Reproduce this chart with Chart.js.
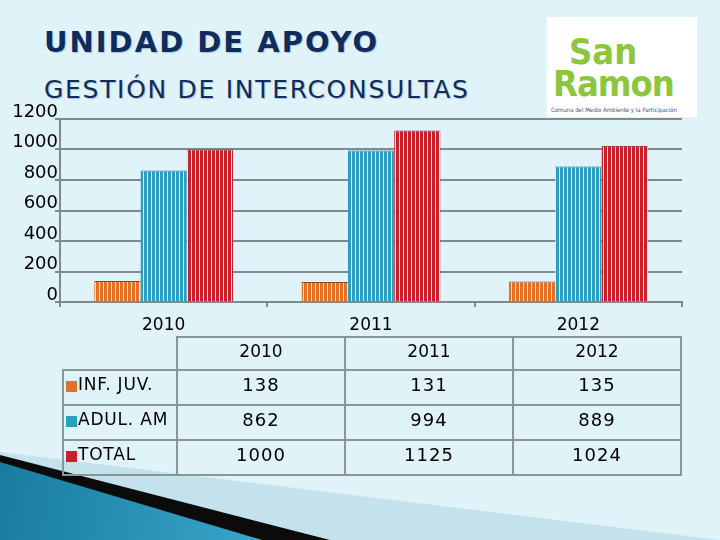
<!DOCTYPE html>
<html>
<head>
<meta charset="utf-8">
<script src="https://cdn.jsdelivr.net/npm/chart.js@4.4.1/dist/chart.umd.min.js"></script>
<style>
  html, body { margin:0; padding:0; }
  body { width:720px; height:540px; background:#dff3f9; position:relative; overflow:hidden; font-family:"DejaVu Sans", sans-serif; }
  #title { position:absolute; left:44px; top:25px; font-family:"DejaVu Sans", sans-serif; font-weight:bold; font-size:29px; letter-spacing:2px; color:#0e2c5e; text-shadow:1px 1px 1px #a9c3d2; }
  #subtitle { position:absolute; left:44px; top:75px; font-family:"DejaVu Sans", sans-serif; font-size:25px; letter-spacing:1.7px; color:#0e2c5e; text-shadow:1px 1px 1px #a9c3d2; }
  #logo { position:absolute; left:547px; top:17px; width:150px; height:100px; background:#fff; }
  #logo .san { position:absolute; left:22px; top:14px; font:bold 36px "DejaVu Sans Condensed", sans-serif; color:#8cc63f; }
  #logo .ram { position:absolute; left:6px; top:46px; font:bold 36px "DejaVu Sans Condensed", sans-serif; color:#8cc63f; letter-spacing:-1px; }
  #logo .cap { position:absolute; left:4px; top:89px; font:6px "DejaVu Sans Condensed", sans-serif; color:#3a4f7a; white-space:nowrap; }
  #wrap { position:absolute; left:0; top:100px; width:700px; height:240px; }
  table { position:absolute; left:62px; top:336px; border-collapse:collapse; font-family:"DejaVu Sans", sans-serif; font-size:17px; }
  td { border:2px solid #8c9598; height:30px; text-align:center; vertical-align:top; padding:3px 0 0 0; }
  tr.head td { height:28px; }
  td.num { font-size:18px; letter-spacing:1px; }
  td.lab { width:112px; text-align:left; font-size:17px; letter-spacing:0.8px; }
  td.yr { width:166px; }
  td.blank { border:none; border-right:2px solid #8c9598; border-bottom:2px solid #8c9598; }
  .sq { display:inline-block; width:11px; height:11px; margin:0 1px 0 2px; vertical-align:-2px; }
  #deco1 { position:absolute; left:0; top:0; width:720px; height:540px; background:#c4e2ec; clip-path:polygon(0 452px, 720px 540px, 0 540px); }
  #deco2 { position:absolute; left:0; top:0; width:720px; height:540px; background:#0b0b0b; clip-path:polygon(0 455px, 330px 540px, 0 540px); }
  #deco3 { position:absolute; left:0; top:0; width:720px; height:540px; background:linear-gradient(100deg,#0e6f92 0%,#3aa7cc 45%,#1f7fa3 100%); clip-path:polygon(0 462px, 262px 540px, 0 540px); }
</style>
</head>
<body>
<div id="deco1"></div><div id="deco2"></div><div id="deco3"></div>
<div id="title">UNIDAD DE APOYO</div>
<div id="subtitle">GESTIÓN DE INTERCONSULTAS</div>
<div id="logo"><span class="san">San</span><span class="ram">Ramon</span><span class="cap">Comuna del Medio Ambiente y la Participación</span></div>
<div id="wrap"><canvas id="chart"></canvas></div>
<table id="tbl"></table>
<script>
const years = ["2010", "2011", "2012"];
const seriesNames = ["INF. JUV.", "ADUL. AM", "TOTAL"];
const infJuv = [138, 131, 135];
const adulAm = [862, 994, 889];
const total = [1000, 1125, 1024];
const yTicks = [0, 200, 400, 600, 800, 1000, 1200];
const colors = ["#e0702a", "#2a9fbf", "#c8202c"];
const darks = ["#8a4a20", "#1f6f86", "#8a1a22"];

function stripes(col) {
  const c = document.createElement('canvas');
  c.width = 4; c.height = 4;
  const g = c.getContext('2d');
  g.fillStyle = '#f4e6e0';
  g.fillRect(0, 0, 4, 4);
  g.fillStyle = col;
  g.fillRect(0, 0, 3, 4);
  return g.createPattern(c, 'repeat');
}

// tabla de datos
const tbl = document.getElementById('tbl');
let html = '<tr class="head"><td class="blank"></td>' + years.map(y => `<td class="yr">${y}</td>`).join('') + '</tr>';
[infJuv, adulAm, total].forEach((vals, i) => {
  html += `<tr><td class="lab"><span class="sq" style="background:${colors[i]}"></span>${seriesNames[i]}</td>` +
    vals.map(v => `<td class="num">${v}</td>`).join('') + '</tr>';
});
tbl.innerHTML = html;

new Chart(document.getElementById('chart'), {
  type: 'bar',
  data: {
    labels: years,
    datasets: [infJuv, adulAm, total].map((d, i) => ({
      label: seriesNames[i],
      data: d,
      backgroundColor: stripes(colors[i]),
      borderColor: darks[i],
      borderWidth: { top: 1, left: 0, right: 0, bottom: 0 },
      borderSkipped: false,
      categoryPercentage: 0.67,
      barPercentage: 1
    }))
  },
  options: {
    responsive: true,
    maintainAspectRatio: false,
    animation: false,
    layout: { padding: { top: 19, right: 18, left: 0, bottom: 0 } },
    plugins: { legend: { display: false }, tooltip: { enabled: false } },
    scales: {
      x: {
        afterFit: s => { s.height = 38; },
        grid: { display: true, offset: true, drawOnChartArea: false, color: '#808a8d', lineWidth: 2, tickLength: 5 },
        border: { color: '#808a8d', width: 2 },
        ticks: { color: '#000', padding: 8, font: { family: 'DejaVu Sans', size: 17 } }
      },
      y: {
        min: 0, max: 1200,
        afterFit: s => { s.width = 60; },
        afterBuildTicks: s => { s.ticks = yTicks.map(v => ({ value: v })); },
        grid: { color: '#808a8d', lineWidth: 2, tickLength: 5 },
        border: { color: '#808a8d', width: 2 },
        ticks: { color: '#000', padding: -3, labelOffset: -7, callback: v => String(v), font: { family: 'DejaVu Sans', size: 18 } }
      }
    }
  }
});
</script>
</body>
</html>
